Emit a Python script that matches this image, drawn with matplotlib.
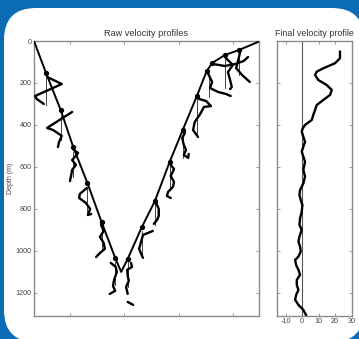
import matplotlib
matplotlib.use("Agg")
import matplotlib.pyplot as plt
from matplotlib.patches import FancyBboxPatch

plt.rcParams['font.family'] = ['Liberation Sans', 'DejaVu Sans']

# ---------------- data ----------------
# ship track (distance, depth of station in m)
track_x = [-0.66, -0.44, -0.17, 0.06, 0.32, 0.58, 0.83, 0.94, 1.06, 1.32, 1.56,
           1.83, 2.07, 2.33, 2.51, 2.61, 2.84, 3.10, 3.45]
track_d = [0, 152, 329, 505, 676, 862, 1033, 1100, 1038, 886, 762,
           576, 424, 262, 143, 105, 67, 43, 5]
station_idx = [1, 2, 3, 4, 5, 6, 8, 9, 10, 11, 12, 13, 14, 15, 16, 17]

# raw profiles: (x positions, depths)
prof1_x = [-0.42, -0.15, -0.64, -0.61, -0.48]
prof1_d = [171, 205, 262, 276, 300]
prof2_x = [0.04, -0.42, -0.31, -0.15, -0.20, -0.22]
prof2_d = [338, 414, 424, 452, 481, 505]
prof3_x = [0.07, 0.15, 0.09, 0.04, 0.11, 0.04, 0.02, 0.00]
prof3_d = [519, 533, 552, 567, 590, 614, 643, 667]
prof4_x = [0.31, 0.18, 0.17, 0.29, 0.37, 0.33, 0.39]
prof4_d = [700, 729, 748, 771, 800, 829, 824]
prof5_x = [0.57, 0.62, 0.55, 0.62, 0.64, 0.55, 0.48]
prof5_d = [876, 905, 933, 962, 990, 1010, 1029]
prof6_x = [0.75, 0.84, 0.86, 0.81, 0.79, 0.83, 0.73]
prof6_d = [1057, 1076, 1100, 1138, 1167, 1190, 1205]
prof7_x = [1.12, 1.14, 1.05, 1.06, 1.08, 1.03, 1.06]
prof7_d = [1057, 1076, 1090, 1119, 1143, 1171, 1205]
prof7b_x = [1.06, 1.16]
prof7b_d = [1243, 1257]
prof8_x = [1.52, 1.34, 1.30, 1.27, 1.30, 1.34]
prof8_d = [905, 924, 962, 990, 1010, 1033]
prof9_x = [1.58, 1.63, 1.63, 1.60, 1.54]
prof9_d = [771, 800, 833, 852, 871]
prof10_x = [1.85, 1.91, 1.85, 1.91, 1.89, 1.80, 1.78, 1.85]
prof10_d = [590, 610, 643, 671, 695, 719, 738, 748]
prof11_x = [2.11, 2.06, 2.09, 2.13, 2.09, 2.17, 2.18]
prof11_d = [438, 462, 495, 519, 543, 557, 538]
prof12_x = [2.37, 2.50, 2.59, 2.46, 2.39, 2.29, 2.26, 2.35]
prof12_d = [276, 286, 310, 314, 348, 386, 424, 457]
prof13_x = [2.53, 2.61, 2.57, 2.72, 2.86, 2.95]
prof13_d = [152, 195, 224, 243, 252, 262]
prof14_x = [2.64, 2.84, 3.03, 3.19, 3.27]
prof14_d = [110, 119, 110, 95, 76]
prof15_x = [2.86, 2.99, 2.90, 2.94, 2.97, 2.94]
prof15_d = [81, 114, 148, 186, 219, 229]
prof16_x = [3.12, 3.08, 3.05, 3.16, 3.30]
prof16_d = [57, 100, 129, 162, 195]

profiles = [(prof1_x, prof1_d), (prof2_x, prof2_d), (prof3_x, prof3_d),
            (prof4_x, prof4_d), (prof5_x, prof5_d), (prof6_x, prof6_d),
            (prof7_x, prof7_d), (prof7b_x, prof7b_d), (prof8_x, prof8_d),
            (prof9_x, prof9_d), (prof10_x, prof10_d), (prof11_x, prof11_d),
            (prof12_x, prof12_d), (prof13_x, prof13_d), (prof14_x, prof14_d),
            (prof15_x, prof15_d), (prof16_x, prof16_d)]

# reference (zero) lines of each raw profile: x, top depth, bottom depth
ref_x = [-0.44, -0.17, 0.06, 0.32, 0.58, 0.83, 1.06, 1.32, 1.56, 1.83, 2.07, 2.33, 2.55, 2.84, 3.10]
ref_top = [171, 357, 529, 700, 876, 1052, 1052, 905, 776, 590, 438, 276, 171, 76, 57]
ref_bot = [305, 471, 648, 829, 1000, 1160, 1170, 1020, 876, 700, 557, 448, 267, 224, 162]

# final profile (velocity, depth)
final_v = [23.0, 23.0, 20.0, 12.9, 8.9, 7.9, 9.9, 15.0, 18.0, 17.0, 12.9, 8.9, 7.9,
           6.8, 5.9, 1.8, 0.4, -0.2, 0.8, 1.8, 0.8, -0.2, 0.8, 1.8, 0.8, 1.8, 0.8,
           -1.2, -1.6, -0.8, 0.2, -0.2, -1.2, -1.6, -0.2, -1.6, -2.2, -1.2, -0.8,
           -2.2, -4.2, -3.6, -2.2, -1.2, -3.2, -3.2, -2.2, -3.6, -4.2, -2.2, 0.8, 2.4]
final_d = [51, 82, 106, 130, 146, 162, 186, 210, 233, 257, 281, 305, 329,
           352, 376, 400, 416, 432, 456, 480, 503, 527, 551, 575, 614, 646, 678,
           710, 733, 757, 781, 813, 844, 876, 900, 932, 956, 980, 1003,
           1027, 1043, 1067, 1090, 1114, 1138, 1162, 1186, 1210, 1233, 1257, 1281, 1305]

depth_ticks = [0, 200, 400, 600, 800, 1000, 1200]
vel_ticks = [-10, 0, 10, 20, 30]
dist_ticks = [0, 1, 2, 3]

# ---------------- figure ----------------
W, H = 359, 339
fig = plt.figure(figsize=(W / 100, H / 100), dpi=100)
fig.patch.set_facecolor('#0b6cb5')

bg = fig.add_axes([0, 0, 1, 1], zorder=0)
bg.set_xlim(0, W)
bg.set_ylim(H, 0)
bg.axis('off')
bg.add_patch(FancyBboxPatch((4, 8), 360, 334, boxstyle="round,pad=0,rounding_size=32",
                            facecolor='white', edgecolor='none'))

spine_col = '#8a8a8a'
txt_col = '#444444'


def style(ax):
    for s in ax.spines.values():
        s.set_color(spine_col)
        s.set_linewidth(1.0)
    ax.tick_params(direction='in', length=2.5, width=0.6, color=spine_col,
                   top=True, right=True, labelsize=5.2, labelcolor=txt_col, pad=1.5)
    ax.set_facecolor('white')


ax1 = fig.add_axes([34 / W, (H - 316) / H, 225 / W, 275 / H], zorder=1)
style(ax1)
ax1.set_xlim(-0.66, 3.47)
ax1.set_ylim(1310, 0)
ax1.set_xticks(dist_ticks)
ax1.set_xticklabels([])
ax1.set_yticks(depth_ticks)
ax1.set_yticklabels([str(t) for t in depth_ticks])
ax1.set_ylabel('Depth (m)', fontsize=5.0, color=txt_col, labelpad=1)
ax1.set_title('Raw velocity profiles', fontsize=6.6, color='#333333', pad=3.5)

for x, t, b in zip(ref_x, ref_top, ref_bot):
    ax1.plot([x, x], [t, b], color='#222222', lw=0.6, zorder=2)
for px, pd_ in profiles:
    ax1.plot(px, pd_, color='black', lw=1.7, solid_joinstyle='round',
             solid_capstyle='round', zorder=3)
ax1.plot(track_x, track_d, color='black', lw=1.4, zorder=4)
ax1.plot([track_x[i] for i in station_idx], [track_d[i] for i in station_idx],
         'o', color='black', ms=2.8, zorder=5)

ax2 = fig.add_axes([277 / W, (H - 316) / H, 75 / W, 275 / H], zorder=1)
style(ax2)
ax2.set_xlim(-15.2, 30.3)
ax2.set_ylim(1310, 0)
ax2.set_xticks(vel_ticks)
ax2.set_xticklabels([str(t) for t in vel_ticks])
ax2.set_yticks(depth_ticks)
ax2.set_yticklabels([])
ax2.set_title('Final velocity profile', fontsize=6.4, color='#333333', pad=3.5)
ax2.axvline(0, color='#555555', lw=0.8, zorder=2)
ax2.plot(final_v, final_d, color='black', lw=1.7, solid_joinstyle='round', zorder=3)

fig.savefig('out.png', dpi=100, facecolor=fig.get_facecolor())
